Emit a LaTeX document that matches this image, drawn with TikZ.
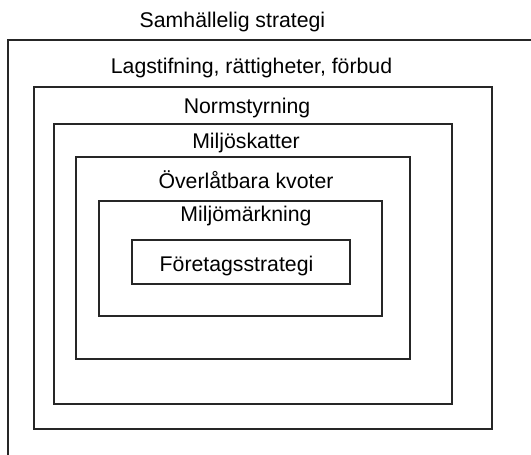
\documentclass[tikz,border=0pt]{standalone}
\usepackage{fontspec}
\setmainfont{Liberation Sans}

\begin{document}
\begin{tikzpicture}[x=0.02cm,y=-0.02cm,font=\fontsize{12.1}{14}\selectfont,
  lbl/.style={inner sep=0,anchor=base},
  frame/.style={line width=0.6pt,draw=black!85}]
  \useasboundingbox (0,0) rectangle (531,455);

  % outer frame, cut off at right and bottom
  \draw[frame] (531,40) -- (8,40) -- (8,455);

  \draw[frame] (34,87) rectangle (492,429);
  \draw[frame] (54,124) rectangle (452,404);
  \draw[frame] (76,157) rectangle (410,359);
  \draw[frame] (99,201) rectangle (382,316);
  \draw[frame] (132,240) rectangle (350,284);

  \node[lbl] (samh) at (232.5,28) {Samhällelig strategi};
  \node[lbl] (lag) at (251.5,74) {Lagstifning, rättigheter, förbud};
  \node[lbl] (norm) at (247,114) {Normstyrning};
  \node[lbl] (skatt) at (246,149) {Miljöskatter};
  \node[lbl] (kvot) at (246,189) {Överlåtbara kvoter};
  \node[lbl] (mark) at (246,222) {Miljömärkning};
  \node[lbl] (ftg) at (236.5,272) {Företagsstrategi};

\end{tikzpicture}
\end{document}
